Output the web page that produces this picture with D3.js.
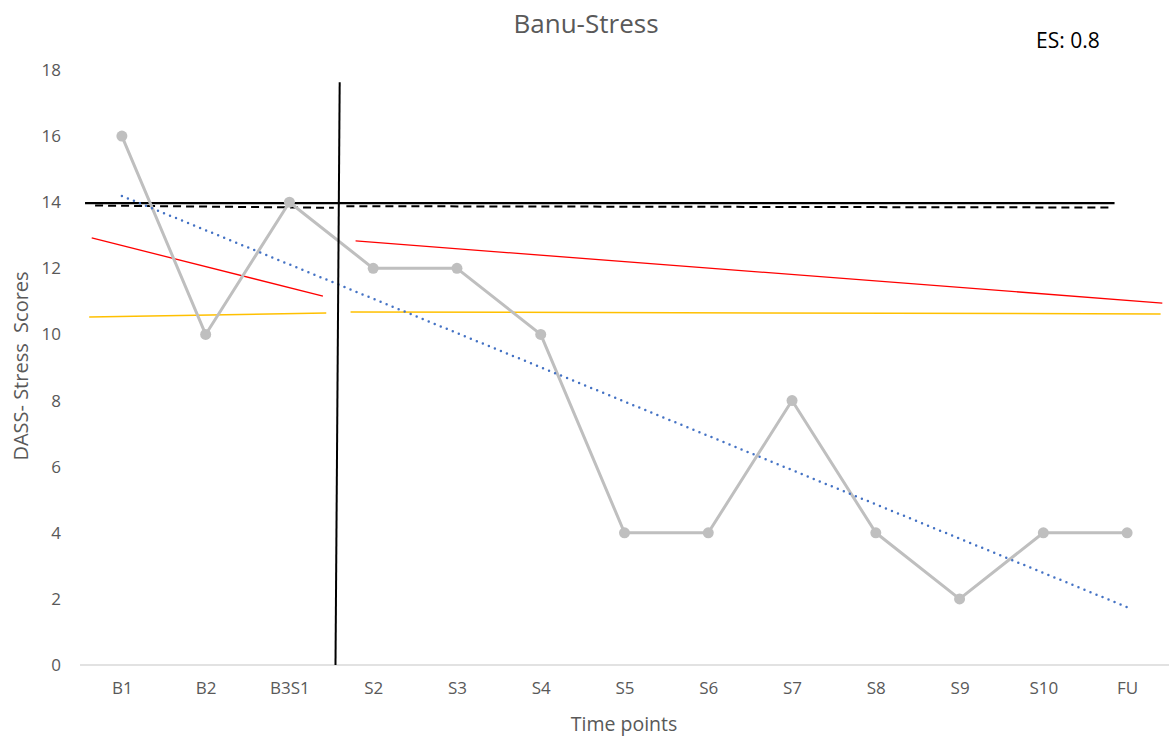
<!DOCTYPE html>
<html>
<head>
<meta charset="utf-8">
<script src="https://cdn.jsdelivr.net/npm/d3@7"></script>
<style>
  html, body { margin: 0; padding: 0; background: #fff; }
  svg { display: block; font-family: "Open Sans", "Noto Sans", sans-serif; }
</style>
</head>
<body>
<svg id="chart" width="1175" height="738"></svg>
<script>
// Time points and DASS stress scores
const categories = ["B1", "B2", "B3S1", "S2", "S3", "S4", "S5", "S6", "S7", "S8", "S9", "S10", "FU"];
const scores = [16, 10, 14, 12, 12, 10, 4, 4, 8, 4, 2, 4, 4];
const yTicks = [0, 2, 4, 6, 8, 10, 12, 14, 16, 18];

// Reference lines, as [category position, score] endpoint pairs
const meanLine = [[-0.44, 13.97], [11.85, 13.97]];
const dashedBaseline = [[-0.32, 13.90], [2.53, 13.83]];
const dashedTreatment = [[2.68, 13.88], [11.8, 13.84]];
const redBaseline = [[-0.36, 12.92], [2.40, 11.16]];
const redTreatment = [[2.79, 12.83], [12.42, 10.95]];
const yellowBaseline = [[-0.39, 10.53], [2.44, 10.65]];
const yellowTreatment = [[2.73, 10.68], [12.40, 10.62]];
const trendLine = [[0, 14.19], [12, 1.75]];
const phaseChange = [[2.6, 17.63], [2.55, 0]];

const svg = d3.select("#chart");
const plotLeft = 80, plotRight = 1169, plotTop = 70, plotBottom = 665;

const x = d3.scalePoint().domain(categories).range([plotLeft, plotRight]).padding(0.5);
const y = d3.scaleLinear().domain([0, 18]).range([plotBottom, plotTop]);
// fractional category position -> pixel
const xi = d3.scaleLinear().domain([0, categories.length - 1])
  .range([x(categories[0]), x(categories[categories.length - 1])]);

const grey = "#595959";

// Title and effect size
svg.append("text").attr("x", 586).attr("y", 33).attr("text-anchor", "middle")
  .attr("font-size", 26).attr("fill", grey).text("Banu-Stress");
svg.append("text").attr("x", 1036).attr("y", 48)
  .attr("font-size", 21).attr("fill", "#000").text("ES: 0.8");

// Y axis tick labels
const yAxis = d3.axisLeft(y).tickValues(yTicks).tickSize(0).tickPadding(0);
svg.append("g").attr("transform", `translate(61,0)`).call(yAxis)
  .call(g => g.select(".domain").remove())
  .call(g => g.selectAll("text").attr("fill", grey).attr("font-size", 17)
    .attr("font-family", "'Open Sans', sans-serif"));

// X axis
const xAxis = d3.axisBottom(x).tickSize(0).tickPadding(17);
svg.append("g").attr("transform", `translate(0,${plotBottom})`).call(xAxis)
  .call(g => g.select(".domain").attr("stroke", "#d9d9d9").attr("stroke-width", 1.5)
    .attr("d", `M${plotLeft},0H${plotRight}`))
  .call(g => g.selectAll("text").attr("fill", grey).attr("font-size", 17)
    .attr("font-family", "'Open Sans', sans-serif"));

// Axis titles
svg.append("text").attr("x", 624).attr("y", 731).attr("text-anchor", "middle")
  .attr("font-size", 19.5).attr("fill", grey).text("Time points");
svg.append("text").attr("transform", `translate(28,366) rotate(-90)`)
  .attr("text-anchor", "middle").attr("font-size", 20).attr("fill", grey)
  .attr("xml:space", "preserve").text("DASS- Stress  Scores");

const seg = d3.line().x(d => xi(d[0])).y(d => y(d[1]));
const drawSeg = (pts, color, width, dash) => {
  const p = svg.append("path").attr("d", seg(pts)).attr("fill", "none")
    .attr("stroke", color).attr("stroke-width", width);
  if (dash) p.attr("stroke-dasharray", dash);
  return p;
};

// Level and trend lines
drawSeg(yellowBaseline, "#ffc000", 1.5);
drawSeg(yellowTreatment, "#ffc000", 1.5);
drawSeg(redBaseline, "#ff0000", 1.3);
drawSeg(redTreatment, "#ff0000", 1.3);
drawSeg(meanLine, "#000", 2.2);
drawSeg(dashedBaseline, "#000", 2, "8,5");
drawSeg(dashedTreatment, "#000", 2, "8,5");

// Score series
const line = d3.line().x((d, i) => x(categories[i])).y(d => y(d));
svg.append("path").datum(scores).attr("d", line).attr("fill", "none")
  .attr("stroke", "#bfbfbf").attr("stroke-width", 3).attr("stroke-linejoin", "round");
svg.selectAll("circle.pt").data(scores).join("circle").attr("class", "pt")
  .attr("cx", (d, i) => x(categories[i])).attr("cy", d => y(d)).attr("r", 5.5)
  .attr("fill", "#bfbfbf");

// Linear trend (dotted)
drawSeg(trendLine, "#4472c4", 2.5, "0,6.5").attr("stroke-linecap", "round");

// Phase change line
drawSeg(phaseChange, "#000", 2);
</script>
</body>
</html>
